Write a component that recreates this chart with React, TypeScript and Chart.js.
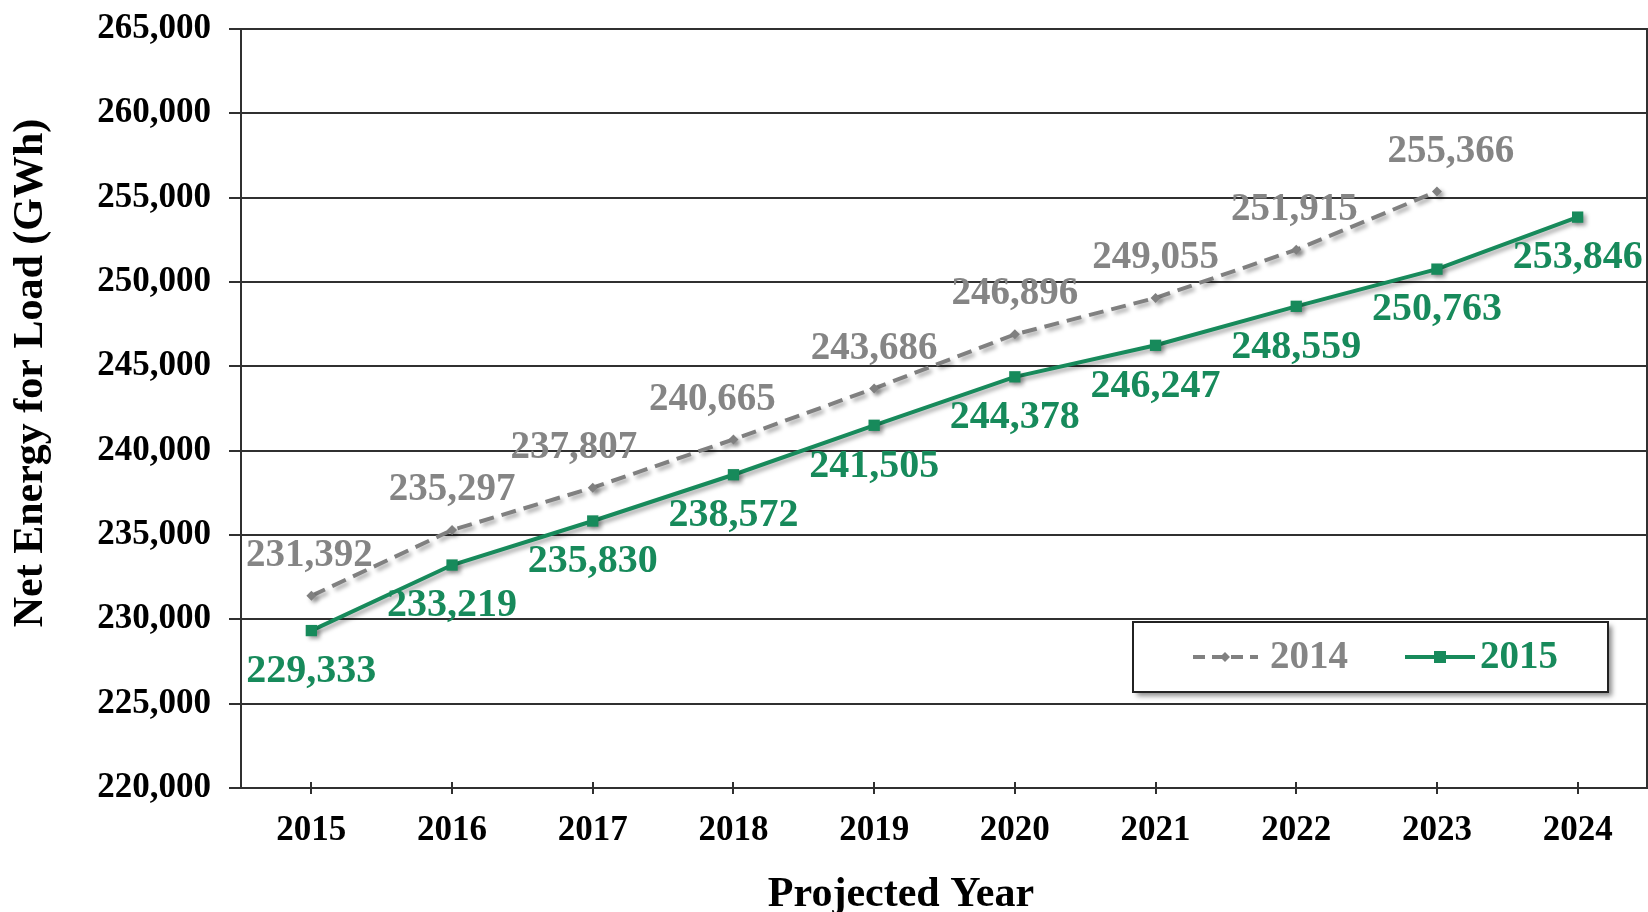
import React, { useEffect, useRef } from 'react';
import { Chart, registerables } from 'chart.js';

Chart.register(...registerables);

const years = ['2015', '2016', '2017', '2018', '2019', '2020', '2021', '2022', '2023', '2024'];
const forecast2014 = [231392, 235297, 237807, 240665, 243686, 246896, 249055, 251915, 255366, null];
const forecast2015 = [229333, 233219, 235830, 238572, 241505, 244378, 246247, 248559, 250763, 253846];
const yMin = 220000;
const yMax = 265000;
const yStep = 5000;
const seriesNames = ['2014', '2015'];
const yTitle = 'Net Energy for Load (GWh)';
const xTitle = 'Projected Year';

// small horizontal nudges for the 2014 labels (styling only)
const labelDx2014 = [-2, 0, -19, -21, 0, 0, 0, -2, 14, 0];

const GREEN = '#178a5b';
const GRAY = '#808080';
const GRAY_TEXT = '#858585';
const LINE = '#303030';
const SERIF = "'Liberation Serif', 'Times New Roman', serif";

const fmt = (v: number) => v.toLocaleString('en-US');

const shadowPlugin = {
  id: 'shadowPlugin',
  beforeDatasetDraw(chart: any) {
    const ctx = chart.ctx;
    ctx.save();
    ctx.shadowColor = 'rgba(0,0,0,0.35)';
    ctx.shadowBlur = 4;
    ctx.shadowOffsetX = 3;
    ctx.shadowOffsetY = 3;
  },
  afterDatasetDraw(chart: any) {
    chart.ctx.restore();
  },
};

const decorPlugin = {
  id: 'decorPlugin',
  afterDraw(chart: any) {
    const ctx = chart.ctx;
    const area = chart.chartArea;
    const xs = chart.scales.x;

    // x tick marks crossing the axis
    ctx.save();
    ctx.strokeStyle = LINE;
    ctx.lineWidth = 2;
    for (let i = 0; i < years.length; i++) {
      const px = Math.round(xs.getPixelForValue(i));
      ctx.beginPath();
      ctx.moveTo(px, area.bottom - 6);
      ctx.lineTo(px, area.bottom + 6);
      ctx.stroke();
    }
    // right border
    ctx.beginPath();
    ctx.moveTo(area.right - 1, area.top);
    ctx.lineTo(area.right - 1, area.bottom);
    ctx.stroke();
    ctx.restore();

    // data labels
    ctx.save();
    ctx.textAlign = 'center';
    ctx.textBaseline = 'middle';
    const m0 = chart.getDatasetMeta(0);
    ctx.font = `bold 39px ${SERIF}`;
    ctx.fillStyle = GRAY_TEXT;
    m0.data.forEach((pt: any, i: number) => {
      const v = forecast2014[i];
      if (v == null) return;
      ctx.fillText(fmt(v), pt.x + labelDx2014[i], pt.y - 40);
    });
    const m1 = chart.getDatasetMeta(1);
    ctx.font = `bold 40px ${SERIF}`;
    ctx.fillStyle = GREEN;
    m1.data.forEach((pt: any, i: number) => {
      const v = forecast2015[i];
      if (v == null) return;
      ctx.fillText(fmt(v), pt.x, pt.y + 41);
    });
    ctx.restore();

    // axis titles
    ctx.save();
    ctx.fillStyle = '#000';
    ctx.font = `bold 42px ${SERIF}`;
    ctx.textAlign = 'center';
    ctx.textBaseline = 'middle';
    ctx.fillText(xTitle, 901, 895);
    ctx.translate(31, 373);
    ctx.rotate(-Math.PI / 2);
    ctx.fillText(yTitle, 0, 0);
    ctx.restore();

    // legend box
    const bx = area.right - 515;
    const by = 622;
    const bw = 475;
    const bh = 70;
    ctx.save();
    ctx.shadowColor = 'rgba(0,0,0,0.45)';
    ctx.shadowBlur = 5;
    ctx.shadowOffsetX = 4;
    ctx.shadowOffsetY = 4;
    ctx.fillStyle = '#fff';
    ctx.fillRect(bx, by, bw, bh);
    ctx.restore();
    ctx.save();
    ctx.strokeStyle = '#222';
    ctx.lineWidth = 2;
    ctx.strokeRect(bx, by, bw, bh);
    const cy = by + bh / 2;
    // 2014 sample
    ctx.strokeStyle = GRAY;
    ctx.lineWidth = 4;
    ctx.setLineDash([12, 7]);
    ctx.beginPath();
    ctx.moveTo(bx + 60, cy);
    ctx.lineTo(bx + 125, cy);
    ctx.stroke();
    ctx.setLineDash([]);
    ctx.fillStyle = GRAY;
    ctx.beginPath();
    ctx.moveTo(bx + 92, cy - 5);
    ctx.lineTo(bx + 97, cy);
    ctx.lineTo(bx + 92, cy + 5);
    ctx.lineTo(bx + 87, cy);
    ctx.closePath();
    ctx.fill();
    ctx.font = `bold 39px ${SERIF}`;
    ctx.fillStyle = GRAY_TEXT;
    ctx.textAlign = 'left';
    ctx.textBaseline = 'middle';
    ctx.fillText(seriesNames[0], bx + 137, cy + 1);
    // 2015 sample
    ctx.strokeStyle = GREEN;
    ctx.lineWidth = 4;
    ctx.beginPath();
    ctx.moveTo(bx + 272, cy);
    ctx.lineTo(bx + 342, cy);
    ctx.stroke();
    ctx.fillStyle = GREEN;
    ctx.fillRect(bx + 301, cy - 6, 12, 12);
    ctx.font = `bold 39px ${SERIF}`;
    ctx.fillText(seriesNames[1], bx + 347, cy + 1);
    ctx.restore();
  },
};

export default function App() {
  const ref = useRef<HTMLCanvasElement | null>(null);

  useEffect(() => {
    document.body.style.margin = '0';
    const canvas = ref.current;
    if (!canvas) return;
    const chart = new Chart(canvas, {
      type: 'line',
      data: {
        labels: years,
        datasets: [
          {
            label: seriesNames[0],
            data: forecast2014,
            borderColor: GRAY,
            backgroundColor: GRAY,
            borderWidth: 4,
            borderDash: [15, 8],
            pointStyle: 'rectRot',
            pointRadius: 5,
            pointBorderWidth: 0,
            pointBackgroundColor: GRAY,
            tension: 0,
            spanGaps: false,
          },
          {
            label: seriesNames[1],
            data: forecast2015,
            borderColor: GREEN,
            backgroundColor: GREEN,
            borderWidth: 4,
            pointStyle: 'rect',
            pointRadius: 8,
            pointBorderWidth: 0,
            pointBackgroundColor: GREEN,
            tension: 0,
          },
        ],
      },
      options: {
        responsive: false,
        animation: false,
        devicePixelRatio: 1,
        layout: { autoPadding: false, padding: { top: 29, left: 0, right: 0, bottom: 0 } },
        plugins: {
          legend: { display: false },
          tooltip: { enabled: false },
          title: { display: false },
        },
        scales: {
          x: {
            type: 'category',
            offset: true,
            grid: { display: false, drawTicks: false },
            border: { display: true, color: LINE, width: 2 },
            ticks: {
              color: '#000',
              padding: 22,
              font: { family: SERIF, size: 35, weight: 'bold' },
              maxRotation: 0,
            },
            afterFit(scale: any) {
              scale.height = 124;
              scale.paddingLeft = 0;
              scale.paddingRight = 0;
            },
          },
          y: {
            min: yMin,
            max: yMax,
            grid: { color: LINE, lineWidth: 2, drawTicks: true, tickLength: 12 },
            border: { display: true, color: LINE, width: 2 },
            ticks: {
              stepSize: yStep,
              color: '#000',
              padding: 18,
              font: { family: SERIF, size: 35, weight: 'bold' },
              callback: (v: any) => fmt(Number(v)),
            },
            afterFit(scale: any) {
              scale.width = 241;
              scale.paddingTop = 0;
              scale.paddingBottom = 0;
            },
          },
        },
      },
      plugins: [shadowPlugin, decorPlugin],
    } as any);
    return () => chart.destroy();
  }, []);

  return (
    <canvas ref={ref} width={1648} height={912} style={{ display: 'block' }} />
  );
}
